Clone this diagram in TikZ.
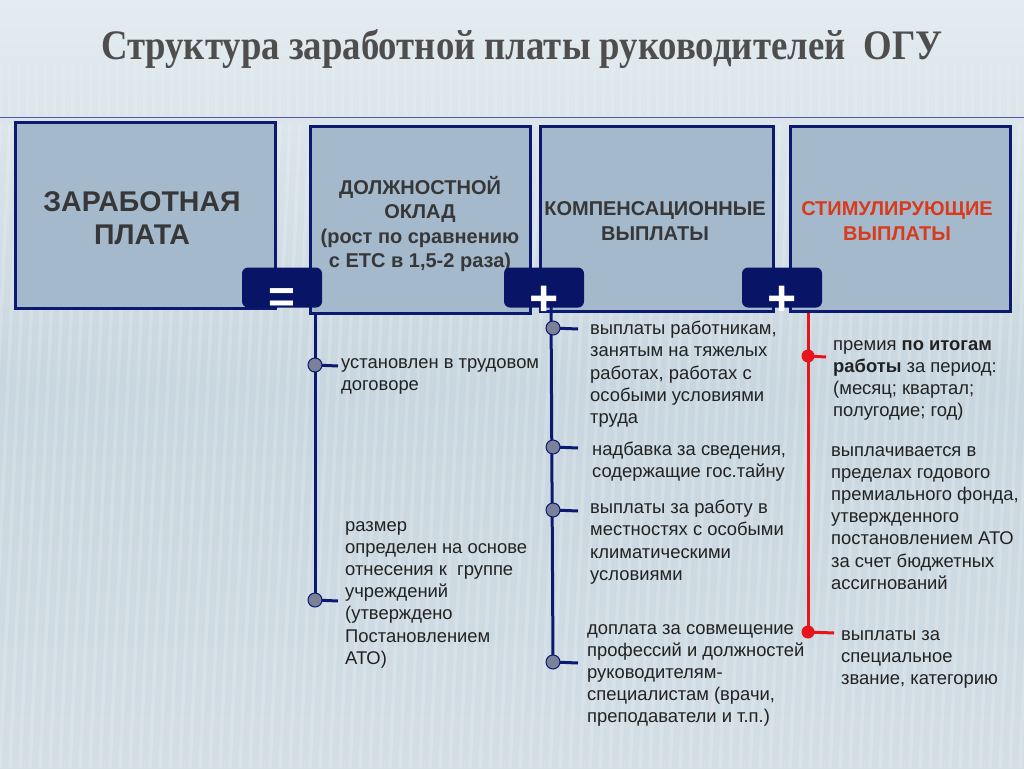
\documentclass[tikz,border=0pt]{standalone}
\usepackage{fontspec}
\setmainfont{Liberation Sans}
\newfontfamily\titlefont{Liberation Serif}
\definecolor{navy}{RGB}{12,25,112}
\definecolor{tabnavy}{RGB}{8,20,102}
\definecolor{boxfill}{RGB}{165,185,205}
\definecolor{dotfill}{RGB}{123,129,153}
\definecolor{redline}{RGB}{232,20,28}
\definecolor{hdr}{RGB}{55,55,55}
\definecolor{stim}{RGB}{217,58,26}
\definecolor{titlec}{RGB}{78,78,78}
\definecolor{bgtop}{RGB}{228,236,240}
\definecolor{bgmid}{RGB}{200,214,223}
\definecolor{bgbot}{RGB}{211,222,229}
\definecolor{bodytext}{RGB}{34,34,34}
\tikzset{
  bigbox/.style={draw=navy, line width=3pt, fill=boxfill, inner sep=0pt},
  optab/.style={fill=tabnavy, rounded corners=6pt, minimum width=80pt, minimum height=40pt, inner sep=0pt},
  opsym/.style={text=white, font=\fontsize{50}{50}\selectfont\bfseries, inner sep=0pt, anchor=base},
  hdrtext/.style={text=hdr, font=\bfseries\fontsize{20}{24.5}\selectfont, align=center, inner sep=0pt},
  bodytxt/.style={text=bodytext, font=\fontsize{18.4}{22.2}\selectfont, align=left, anchor=north west, inner sep=0pt},
  navyline/.style={draw=navy, line width=3pt},
  redl/.style={draw=redline, line width=3pt},
  ndot/.style={circle, draw=navy, line width=1pt, fill=dotfill, minimum size=14pt, inner sep=0pt},
  rdot/.style={circle, fill=redline, minimum size=13pt, inner sep=0pt},
}
\begin{document}
\begin{tikzpicture}[x=1pt,y=-1pt]
\useasboundingbox (0,0) rectangle (1024,768);
\shade[top color=bgtop, bottom color=bgbot, middle color=bgmid] (0,0) rectangle (1024,768);
\foreach \i in {-60,-50,...,1100}
  \draw[white, opacity=0.16, line width=3.5pt] (\i,768) -- (\i+30,125);
\foreach \i in {0,9,...,1024}
  \draw[white, opacity=0.12, line width=3pt] (\i,62) -- (\i,115);
\draw[color=gray!70!blue, line width=1pt] (0,117) -- (1024,117);

% title
\node[text=titlec, font=\titlefont\bfseries\fontsize{42}{46}\selectfont, inner sep=0pt, xscale=0.875, transform shape] (title) at (522,49) {Структура заработной платы руководителей \ ОГУ};

% boxes
\node[bigbox, minimum width=260pt, minimum height=186pt] (zp) at (145,215) {};
\node[bigbox, minimum width=220pt, minimum height=187pt] (dok) at (420,219.5) {};
\node[bigbox, minimum width=233pt, minimum height=185pt] (komp) at (656.5,218.5) {};
\node[bigbox, minimum width=220pt, minimum height=185pt] (stimb) at (900,218.5) {};

\node[hdrtext, font=\bfseries\fontsize{28.5}{33}\selectfont] (zpt) at (142,218) {ЗАРАБОТНАЯ\\ПЛАТА};
\node[hdrtext] (dokt) at (420,224) {ДОЛЖНОСТНОЙ\\ОКЛАД\\(рост по сравнению\\с ЕТС в 1,5-2 раза)};
\node[hdrtext] (kompt) at (655,221) {КОМПЕНСАЦИОННЫЕ\\ВЫПЛАТЫ};
\node[hdrtext, text=stim] (stimt) at (897,221) {СТИМУЛИРУЮЩИЕ\\ВЫПЛАТЫ};

% connector lines
\coordinate (top1) at (315,313);
\coordinate (top2) at (551,306);
\coordinate (top3) at (808,313);

\node[bodytxt] (t11) at (341,358) {установлен в трудовом\\договоре};
\node[bodytxt] (t12) at (345,521) {размер\\определен на основе\\отнесения к \ группе\\учреждений\\(утверждено\\Постановлением\\АТО)};
\node[bodytxt] (t21) at (590,321) {выплаты работникам,\\занятым на тяжелых\\работах, работах с\\особыми условиями\\труда};
\node[bodytxt] (t22) at (592,442) {надбавка за сведения,\\содержащие гос.тайну};
\node[bodytxt] (t23) at (590,500) {выплаты за работу в\\местностях с особыми\\климатическими\\условиями};
\node[bodytxt] (t24) at (587,624) {доплата за совмещение\\профессий и должностей\\руководителям-\\специалистам (врачи,\\преподаватели и т.п.)};
\node[bodytxt] (t31) at (833,340) {премия \textbf{по итогам}\\\textbf{работы} за период:\\(месяц; квартал;\\полугодие; год)};
\node[bodytxt] (t32) at (831,446) {выплачивается в\\пределах годового\\премиального фонда,\\утвержденного\\постановлением АТО\\за счет бюджетных\\ассигнований};
\node[bodytxt] (t33) at (841,630) {выплаты за\\специальное\\звание, категорию};

\coordinate (d11) at (315,365);
\coordinate (d12) at (315,600);
\coordinate (d21) at (553,328);
\coordinate (d22) at (553,447);
\coordinate (d23) at (553,510);
\coordinate (d24) at (553,662);
\coordinate (r1) at (808,356);
\coordinate (r2) at (808,632);

\coordinate (s11) at (338,366);
\coordinate (s12) at (338,601);
\coordinate (s21) at (578,329);
\coordinate (s22) at (578,448);
\coordinate (s23) at (578,511);
\coordinate (s24) at (578,663);
\coordinate (s31) at (826,357);
\coordinate (s33) at (834,633);

\draw[navyline] (top1) -- (d12);
\draw[navyline] (top2) -- (d24);
\draw[redl] (top3) -- (r2);
\draw[navyline] (d11) -- (s11);
\draw[navyline] (d12) -- (s12);
\draw[navyline] (d21) -- (s21);
\draw[navyline] (d22) -- (s22);
\draw[navyline] (d23) -- (s23);
\draw[navyline] (d24) -- (s24);
\draw[redl] (r1) -- (s31);
\draw[redl] (r2) -- (s33);

\foreach \p in {d11,d12,d21,d22,d23,d24} \node[ndot] at (\p) {};
\foreach \p in {r1,r2} \node[rdot] at (\p) {};

% operator tabs
\node[optab] (tab1) at (282,287.5) {};
\node[optab] (tab2) at (544,287.5) {};
\node[optab] (tab3) at (782,287.5) {};
\node[opsym, font=\fontsize{46}{46}\selectfont\bfseries] (eq) at (282,312) {=};
\node[opsym] (pl1) at (544,315) {+};
\node[opsym] (pl2) at (782,315) {+};
\end{tikzpicture}
\end{document}
